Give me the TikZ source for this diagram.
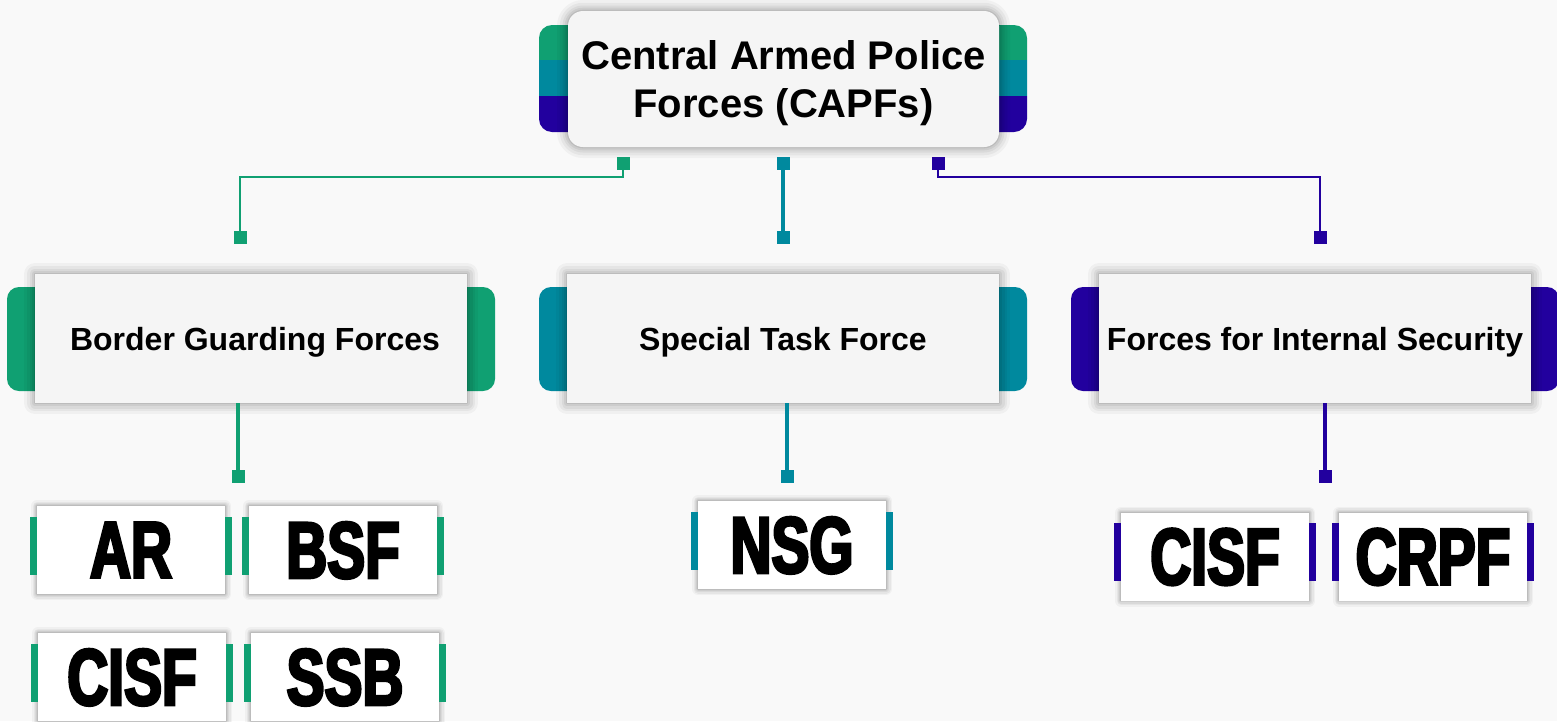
\documentclass[tikz,border=0pt]{standalone}
\usepackage{fontspec}
\setmainfont{Liberation Sans}
\newfontfamily\leaffont{Liberation Sans}[FakeStretch=0.71,FakeBold=3.5]
\usetikzlibrary{calc}
\definecolor{cgreen}{HTML}{10A072}
\definecolor{cteal}{HTML}{00899E}
\definecolor{cpurple}{HTML}{22009E}
\definecolor{bgc}{HTML}{F9F9F9}
\definecolor{boxfill}{HTML}{F5F5F5}
\begin{document}
\begin{tikzpicture}[x=1pt,y=-1pt,
  softshadow/.style={
    preaction={draw=black,draw opacity=0.035,line width=#1*1pt,line join=round},
    preaction={draw=black,draw opacity=0.045,line width=#1*0.75pt,line join=round},
    preaction={draw=black,draw opacity=0.05,line width=#1*0.5pt,line join=round},
    preaction={draw=black,draw opacity=0.06,line width=#1*0.3pt,line join=round},
    preaction={draw=black,draw opacity=0.08,line width=#1*0.12pt,line join=round}},
  topbox/.style={fill=boxfill,rounded corners=15pt,minimum width=431pt,minimum height=136pt,align=center,inner sep=0pt,text depth=0pt,font=\bfseries\fontsize{40}{48}\selectfont,softshadow=22},
  midbox/.style={fill=boxfill,minimum width=432pt,minimum height=129pt,inner sep=0pt,text depth=0pt,font=\bfseries\fontsize{32}{38}\selectfont,softshadow=22},
  leafbox/.style={fill=white,minimum width=188pt,minimum height=88pt,inner sep=0pt,text depth=0pt,font=\leaffont\bfseries\fontsize{80}{80}\selectfont,softshadow=12},
  sq/.style={fill=#1,minimum size=13pt,inner sep=0pt},
  elbow/.style={draw=#1,line width=2pt},
  stem/.style={draw=#1,line width=3.5pt},
  tab/.style={fill=#1,rounded corners=12pt},
]
\useasboundingbox (0,0) rectangle (1557,721);
\fill[bgc] (0,0) rectangle (1557,721);

% tabs behind top node
\begin{scope}
  \clip[rounded corners=13pt] (539,25) rectangle (1027,132);
  \fill[cgreen]  (530,20) rectangle (1040,60);
  \fill[cteal]   (530,60) rectangle (1040,96);
  \fill[cpurple] (530,96) rectangle (1040,140);
\end{scope}
% tabs behind middle nodes
\fill[tab=cgreen]  (7,287)    rectangle (495,391);
\fill[tab=cteal]   (539,287)  rectangle (1027,391);
\fill[tab=cpurple] (1071,287) rectangle (1559,391);

% top node
\node[topbox] (capf) at (783.5,79) {Central Armed Police\\Forces (CAPFs)};

% middle nodes
\node[midbox] (bgf) at (251,338.5) {\hspace*{8pt}Border Guarding Forces};
\node[midbox] (stf) at (783,338.5) {Special Task Force};
\node[midbox] (fis) at (1315,338.5) {Forces for Internal Security};

% squares
\node[sq=cgreen]  (t1) at (623,163) {};
\node[sq=cteal]   (t2) at (783,163) {};
\node[sq=cpurple] (t3) at (938,163) {};
\node[sq=cgreen]  (m1) at (240,237) {};
\node[sq=cteal]   (m2) at (783,237) {};
\node[sq=cpurple] (m3) at (1320,237) {};
\node[sq=cgreen]  (l1) at (238,476) {};
\node[sq=cteal]   (l2) at (787,476) {};
\node[sq=cpurple] (l3) at (1325,476) {};

% connectors
\draw[elbow=cgreen]  (t1.center) -- ++(0,14) -| (m1.center);
\draw[stem=cteal]    (t2.center) -- (m2.center);
\draw[elbow=cpurple] (t3.center) -- ++(0,14) -| (m3.center);
\draw[stem=cgreen]   (l1 |- bgf.south) -- (l1.center);
\draw[stem=cteal]    (l2 |- stf.south) -- (l2.center);
\draw[stem=cpurple]  (l3 |- fis.south) -- (l3.center);

% leaves
\node[leafbox] (ar)    at (131,550)   {AR};
\node[leafbox] (bsf)   at (343,550)   {BSF};
\node[leafbox] (cisfa) at (132,677)   {CISF};
\node[leafbox] (ssb)   at (345,677)   {SSB};
\node[leafbox] (nsg)   at (792,545)   {NSG};
\node[leafbox] (cisfb) at (1215,556.5) {CISF};
\node[leafbox] (crpf)  at (1433,556.5) {CRPF};
\foreach \n/\c in {ar/cgreen,bsf/cgreen,cisfa/cgreen,ssb/cgreen,nsg/cteal,cisfb/cpurple,crpf/cpurple}{
  \fill[\c] ([xshift=-7pt,yshift=-11pt]\n.north west) rectangle ([yshift=-69pt]\n.north west);
  \fill[\c] ([yshift=-11pt]\n.north east) rectangle ([xshift=7pt,yshift=-69pt]\n.north east);
}
\end{tikzpicture}
\end{document}
